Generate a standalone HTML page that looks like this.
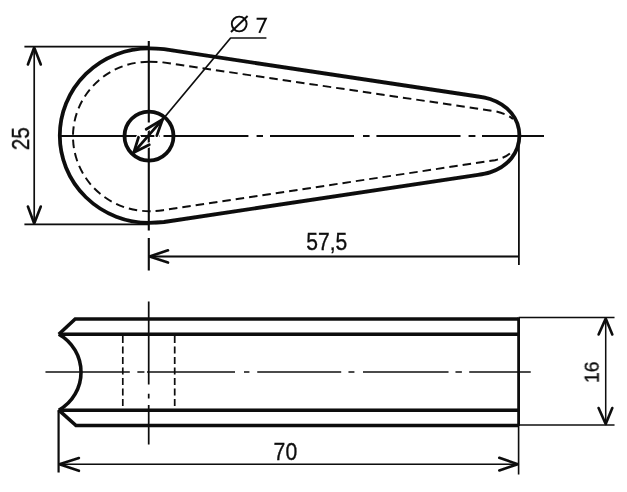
<!DOCTYPE html>
<html>
<head>
<meta charset="utf-8">
<title>Drawing</title>
<style>
  html,body{margin:0;padding:0;background:#fff;}
  body{width:627px;height:492px;overflow:hidden;font-family:"Liberation Sans",sans-serif;}
  svg{display:block;}
  text{font-family:"Liberation Sans",sans-serif;font-size:23.4px;fill:#111;stroke:#111;stroke-width:0.35px;}
</style>
</head>
<body>
<svg width="627" height="492" viewBox="0 0 627 492">
  <defs><filter id="soft" x="-5%" y="-5%" width="110%" height="110%"><feGaussianBlur stdDeviation="0.45"/></filter></defs>
  <rect x="0" y="0" width="627" height="492" fill="#ffffff"/>
  <g fill="none" stroke="#0c0c0c" stroke-linecap="butt" stroke-linejoin="round" filter="url(#soft)">

    <!-- ===== TOP VIEW ===== -->
    <!-- outer outline -->
    <path stroke-width="3.8" d="M149,48.3
             C 155,48.3 159,48.6 164,49.2
             L 478,96.5
             C 484,97.3 487,98 490,99
             C 508,105 519.4,118.5 519.4,135.6
             C 519.4,152.7 508,166.5 490,172.4
             C 487,173.4 484,174 478,174.8
             L 164,222
             C 159,222.6 155,222.8 149,222.8
             A 89.2 87.25 0 0 1 149,48.3 Z"/>
    <!-- hidden (dashed) inner outline -->
    <path stroke-width="1.95" stroke-dasharray="8.5 5" d="M149,61.7
             C 154,61.7 158,61.9 163,62.4
             L 495,111.2
             Q 507,114 513,119"/>
    <path stroke-width="1.95" stroke-dasharray="8.5 5" d="M149,61.7
             A 76 74.74 0 0 0 149,211.2
             C 154,211.2 158,210.9 163,210.2
             L 495,160.2
             Q 506,157.5 511,152.5"/>
    <!-- hole -->
    <circle cx="149" cy="136.1" r="24.5" stroke-width="3.8"/>

    <!-- horizontal centre line -->
    <g stroke-width="1.9">
      <path d="M58,136 H248.4 M256.6,136 H263 M270,136 H354 M363,136 H369.6 M376.4,136 H460.5 M468.6,136 H475.4 M482,136 H544"/>
      <!-- vertical centre line -->
      <path stroke-width="2.1" d="M148.8,41 V230.5 M148.8,238 V270.5"/>
    </g>

    <!-- 25 dimension -->
    <g stroke-width="1.7">
      <path d="M24.4,46.6 H149 M24.4,224.3 H149 M34.2,47 V224"/>
    </g>
    <g stroke-width="2.6" stroke-linecap="round">
      <path d="M27.9,64.5 L34.2,47.5 L40.8,64.5"/>
      <path d="M27.9,206.5 L34.2,223.5 L40.8,206.5"/>
    </g>

    <!-- diameter leader -->
    <g stroke-width="1.7">
      <path d="M163.5,118.5 L230.6,38 H266.4"/>
    </g>
    <!-- diameter arrows inside hole -->
    <g stroke="#fff" stroke-width="5" stroke-linecap="round">
      <path d="M146.2,129.2 L160,121.5 L156.8,135.6"/>
      <path d="M138.5,137.3 L136,150 L149.3,144.8"/>
      <path d="M148.8,122.5 V127 M159.5,136 H163.5" stroke-width="3.6" stroke-linecap="butt"/>
    </g>
    <g stroke-width="2.8" stroke-linecap="round">
      <path d="M133.8,152.4 L162.6,119.4"/>
      <path d="M146.2,129.2 L162.6,119.4 L156.8,135.6"/>
      <path d="M138.5,137.3 L133.8,152.4 L149.3,144.8"/>
    </g>
    <!-- diameter symbol -->
    <circle cx="239.2" cy="24" r="7.4" stroke-width="1.9"/>
    <path d="M231,32 L247.6,16" stroke-width="1.9"/>

    <!-- 57,5 dimension -->
    <g stroke-width="1.8">
      <path d="M149,256.5 H519 M518.9,137 V265"/>
    </g>
    <g stroke-width="2.6" stroke-linecap="round">
      <path d="M168,250.3 L149.6,256.5 L168,262.6"/>
    </g>

    <!-- ===== BOTTOM VIEW ===== -->
    <g stroke-width="3.6" stroke-linejoin="miter">
      <path d="M518.6,319 H75.2 L58.8,334.2"/>
      <path d="M58.8,410.2 L76,425.5 H518.6"/>
      <path d="M58.8,334.2 H518.6"/>
      <path d="M58.8,410.2 H518.6"/>
      <path d="M58.8,334.2 A 43.6 43.6 0 0 1 58.8,410.2"/>
    </g>
    <path d="M518.6,317.5 V426" stroke-width="2.8"/>
    <!-- hidden hole -->
    <g stroke-width="1.7" stroke-dasharray="7 3.5">
      <path d="M122.8,336 V409 M174.7,336 V409"/>
    </g>
    <!-- centre lines -->
    <g stroke-width="1.3">
      <path d="M45.5,372 H129.8 M137.4,372 H144.4 M147,372 H235 M244,372 H249.4 M257.3,372 H341.2 M348.5,372 H354.4 M363,372 H448.5 M455.5,372 H461.9 M469.2,372 H530.7"/>
    </g>
    <g stroke-width="1.7">
      <path d="M148.7,301.5 V384.5 M148.7,393.7 V398.5 M148.7,405 V444.4"/>
    </g>

    <!-- 70 dimension -->
    <g stroke-width="1.6">
      <path d="M58.6,464.2 H518.6"/>
      <path d="M58.6,410 V472.5" stroke-width="2.2"/>
      <path d="M518.6,426 V474.5"/>
    </g>
    <g stroke-width="2.6" stroke-linecap="round">
      <path d="M78.9,458 L59.4,464.2 L78.9,470.8"/>
      <path d="M499.3,457.8 L517.8,464.2 L499.3,470.4"/>
    </g>

    <!-- 16 dimension -->
    <g stroke-width="1.5">
      <path d="M518.6,317.6 H614.5 M518.6,425 H614.5 M605.7,318 V425"/>
    </g>
    <g stroke-width="2.6" stroke-linecap="round">
      <path d="M598.6,334.5 L605.7,318.6 L612.3,334.5"/>
      <path d="M598.6,408 L605.7,424 L612.3,408"/>
    </g>
  </g>

  <!-- ===== TEXT ===== -->
  <g filter="url(#soft)">
  <path d="M256.6,18.7 H265.8 L259.3,32.9" fill="none" stroke="#0c0c0c" stroke-width="2" stroke-linejoin="miter"/>
  <text x="306.3" y="249.6" textLength="41" lengthAdjust="spacingAndGlyphs">57,5</text>
  <text x="273.6" y="459.6" textLength="23.6" lengthAdjust="spacingAndGlyphs">70</text>
  <text transform="translate(29,150.2) rotate(-90)" x="0" y="0" textLength="22.9" lengthAdjust="spacingAndGlyphs">25</text>
  <text transform="translate(598.7,383) rotate(-90)" x="0" y="0" style="font-size:21px" textLength="21.6" lengthAdjust="spacingAndGlyphs">16</text>
  </g>
</svg>
</body>
</html>
